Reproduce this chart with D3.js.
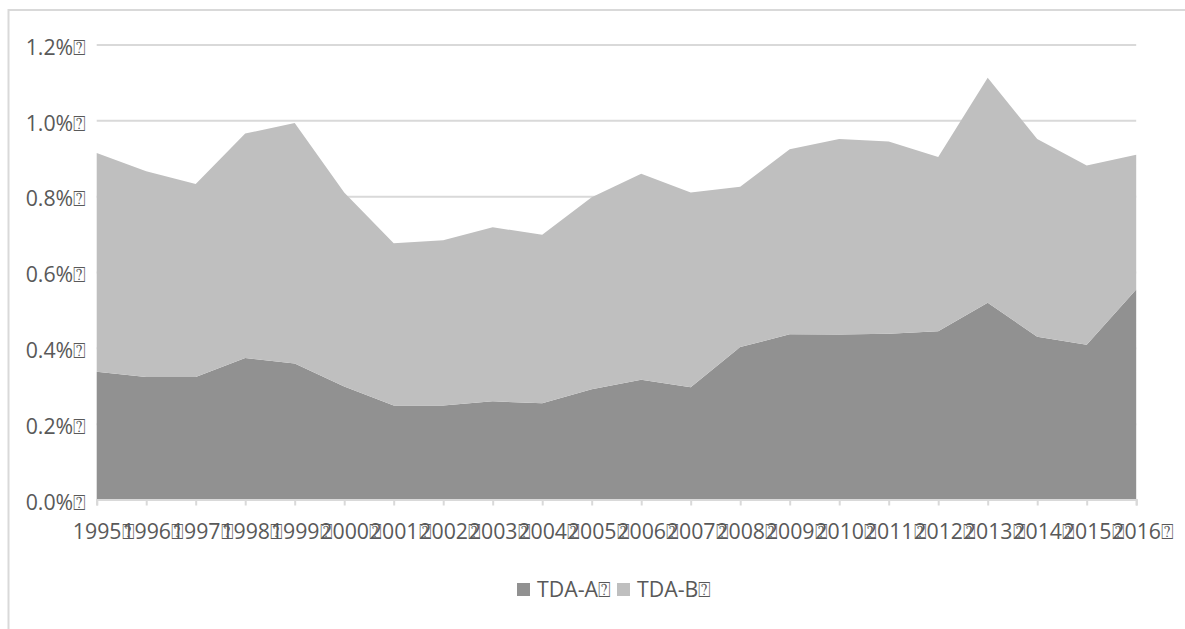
<!DOCTYPE html>
<html>
<head>
<meta charset="utf-8">
<script src="https://cdn.jsdelivr.net/npm/d3@7"></script>
<style>
  body { margin: 0; background: #fff; }
  svg { display: block; }
</style>
</head>
<body>
<svg id="chart" width="1185" height="629"></svg>
<script>
const years = ["1995", "1996", "1997", "1998", "1999", "2000", "2001", "2002", "2003", "2004", "2005",
    "2006", "2007", "2008", "2009", "2010", "2011", "2012", "2013", "2014", "2015", "2016"];
const tdaA = [0.337, 0.323, 0.323, 0.373, 0.359, 0.298, 0.248, 0.248, 0.259, 0.254, 0.291,
    0.316, 0.296, 0.402, 0.436, 0.435, 0.437, 0.444, 0.519, 0.429, 0.408, 0.554];
const tdaB = [0.577, 0.543, 0.509, 0.592, 0.634, 0.512, 0.428, 0.436, 0.459, 0.444, 0.506,
    0.543, 0.514, 0.423, 0.488, 0.516, 0.507, 0.459, 0.593, 0.522, 0.473, 0.355];
const seriesNames = ["TDA-A", "TDA-B"];
const yTicks = [0, 0.2, 0.4, 0.6, 0.8, 1.0, 1.2];

const MISSING = "\u2370";
const COLORS = { "TDA-A": "#919191", "TDA-B": "#bfbfbf" };
const TEXT = "#595959";
const GRID = "#d9d9d9";
const FONT = "'Open Sans', 'Noto Sans', sans-serif";
const FONT_SIZE = 21.3;

const svg = d3.select("#chart");

// outer chart frame (runs past the right and bottom edge)
svg.append("rect")
    .attr("x", 8.5).attr("y", 10)
    .attr("width", 1200).attr("height", 700)
    .attr("fill", "none")
    .attr("stroke", GRID)
    .attr("stroke-width", 2);

const x = d3.scalePoint().domain(years).range([96.7, 1136.2]);
const y = d3.scaleLinear().domain([0, 1.2]).range([499.5, 44.5]);

// gridlines + y labels
const yAxis = svg.append("g")
    .attr("transform", `translate(${x.range()[0]},0)`)
    .call(d3.axisLeft(y)
        .tickValues(yTicks)
        .tickSize(-(x.range()[1] - x.range()[0]))
        .tickPadding(10.5)
        .tickFormat(d => d3.format(".1f")(d) + "%" + MISSING))
    .attr("font-family", FONT)
    .attr("font-size", FONT_SIZE);
yAxis.select(".domain").remove();
yAxis.selectAll(".tick line").attr("stroke", GRID).attr("stroke-width", 2);
yAxis.selectAll(".tick text")
    .attr("fill", TEXT)
    .attr("dy", "0.6em")
    .attr("y", -3);

// stacked areas
const rows = years.map((yr, i) => ({ year: yr, "TDA-A": tdaA[i], "TDA-B": tdaB[i] }));
const stack = d3.stack().keys(seriesNames)(rows);

const area = d3.area()
    .x(d => x(d.data.year))
    .y0(d => y(d[0]))
    .y1(d => y(d[1]));

svg.append("g")
    .selectAll("path")
    .data(stack)
    .join("path")
    .attr("fill", d => COLORS[d.key])
    .attr("d", area);

// x axis
const xAxis = svg.append("g")
    .attr("transform", `translate(0,${y(0)})`)
    .call(d3.axisBottom(x)
        .tickSizeOuter(0)
        .tickSize(6)
        .tickPadding(18.5)
        .tickFormat(d => d + MISSING))
    .attr("font-family", FONT)
    .attr("font-size", FONT_SIZE);
xAxis.select(".domain").attr("stroke", GRID).attr("stroke-width", 2);
xAxis.selectAll(".tick line").attr("stroke", GRID).attr("stroke-width", 2);
xAxis.selectAll(".tick text")
    .attr("fill", TEXT)
    .attr("dx", 6.5);

// legend
const legend = svg.append("g")
    .attr("transform", "translate(517,583)")
    .attr("font-family", FONT)
    .attr("font-size", FONT_SIZE)
    .selectAll("g")
    .data(seriesNames)
    .join("g")
    .attr("transform", (d, i) => `translate(${i * 100},0)`);

legend.append("rect")
    .attr("width", 13).attr("height", 13)
    .attr("fill", d => COLORS[d]);

legend.append("text")
    .attr("x", 20).attr("y", 14)
    .attr("fill", TEXT)
    .text(d => d + MISSING);
</script>
</body>
</html>
